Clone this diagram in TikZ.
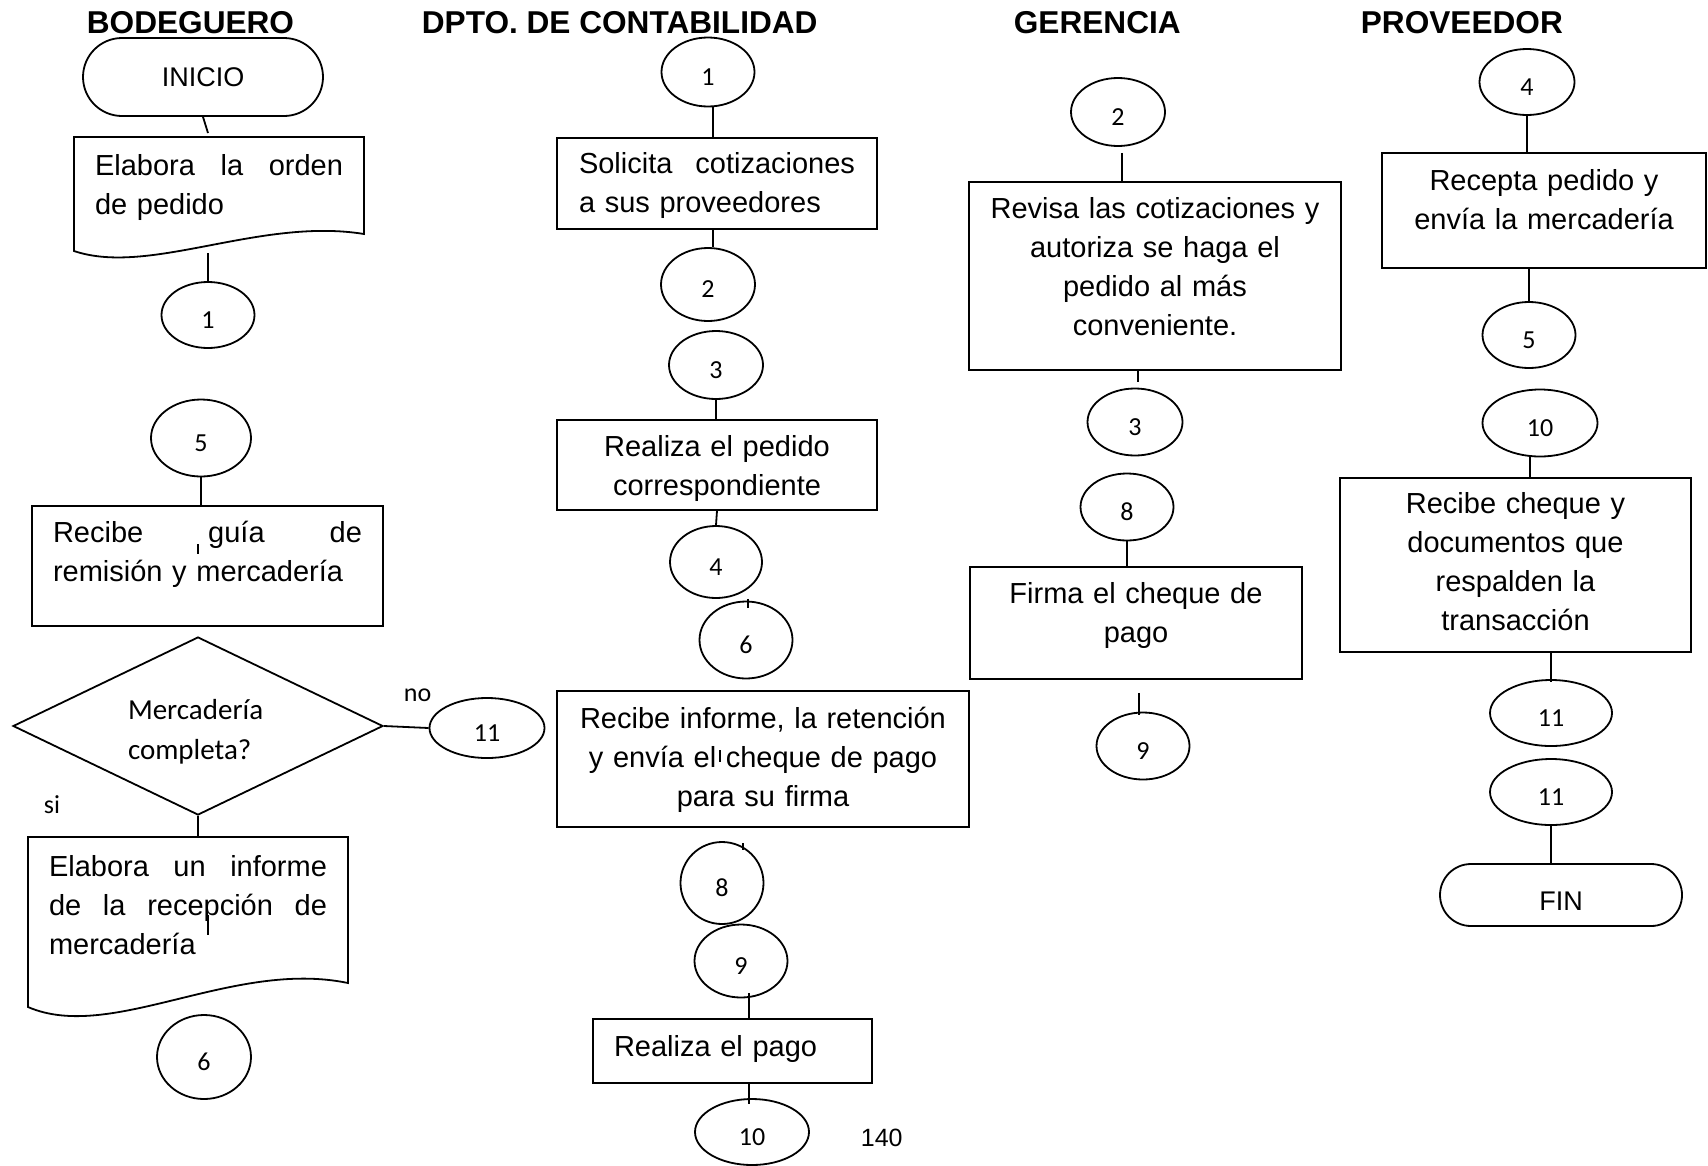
\documentclass[tikz,border=0pt]{standalone}
\usepackage{fontspec}
\setmainfont{Liberation Sans}
\newfontfamily\calibri{Carlito}
\usetikzlibrary{shapes.geometric,shapes.misc,calc}
\setlength{\parindent}{0pt}

\newcommand\textsz{\fontsize{29}{39}\selectfont}
\newcommand\numsz{\calibri\fontsize{26}{30}\selectfont}
\newcommand\headsz{\bfseries\fontsize{31.6}{36}\selectfont}
% one justified line across the whole text width
\newcommand\jline[1]{\makebox[\hsize][s]{\spaceskip=0pt plus 1fil\relax#1}}
% struts: height of the first line, depth of the last one (in pt)
\newcommand\up[1]{\rule{0pt}{#1pt}}
\newcommand\dn[1]{\rule[-#1pt]{0pt}{#1pt}}
% document symbol: flat top, wavy bottom edge
\newcommand\docoutline[2]{%
  \draw (#1.south west) -- (#1.north west) -- (#1.north east) -- ($(#1.south east)+(0pt,#2)$)
    .. controls ($(#1.south west)!0.64!(#1.south east)+(0pt,2*#2)$)
    and ($(#1.south west)!0.26!(#1.south east)-(0pt,1.5*#2)$) .. (#1.south west) -- cycle;}

\tikzset{
  head/.style={anchor=base west, inner sep=0pt, font=\headsz},
  term/.style={draw, rounded rectangle, inner sep=0pt, font=\fontsize{27}{30}\selectfont},
  proc/.style={draw, rectangle, anchor=north, inner sep=0pt, align=center, font=\textsz},
  docu/.style={rectangle, anchor=north, inner sep=0pt, outer sep=0pt, align=left, font=\textsz},
  con/.style 2 args={draw, ellipse, inner sep=0pt, minimum width=#1pt, minimum height=#2pt,
    text height=26.4pt, text depth=0pt, font=\numsz},
  decision/.style={draw, diamond, aspect=2.08, inner sep=0pt, minimum width=370pt,
    minimum height=178pt, text width=140pt, align=left, font=\calibri\fontsize{29}{40}\selectfont},
  tag/.style={anchor=base west, inner sep=0pt, font=\numsz}
}

\begin{document}
\begin{tikzpicture}[x=1pt,y=-1pt,line width=1.8pt]
\useasboundingbox (0,0) rectangle (1708,1165);

% column headings
\node[head] (hBod) at (86,33) {BODEGUERO};
\node[head] (hCont) at (421,33) {DPTO. DE CONTABILIDAD};
\node[head] (hGer) at (1013,33) {GERENCIA};
\node[head] (hProv) at (1360,33) {PROVEEDOR};

% bodeguero
\node[term, minimum width=240pt, minimum height=78pt] (inicio) at (203,77) {INICIO};
\node[docu, minimum width=290pt, text width=248pt] (orden) at (219,137)
  {\up{38}\jline{Elabora la orden}\\ de pedido\dn{37}};
\node[con={93}{66}] (b1) at (208,315) {1};
\node[con={100}{77}] (b5) at (201,438) {5};
\node[proc, align=left, minimum width=351pt, text width=309pt] (guia) at (207.5,505)
  {\up{37}\jline{Recibe guía de}\\ remisión y mercadería\dn{44}};
\node[decision] (dec) at (198,726) {\up{34}Mercadería\\ completa?\dn{8}};
\node[tag] (no) at (403,701) {no};
\node[tag] (si) at (43,813) {si};
\node[con={115}{60}] (b11) at (487,728) {11};
\node[docu, minimum width=320pt, text width=278pt] (reporte) at (188,837)
  {\up{39}\jline{Elabora un informe}\\ \jline{de la recepción de}\\ mercadería\dn{53}};
\node[con={94}{84}] (b6) at (204,1057) {6};

\docoutline{orden}{17pt}
\docoutline{reporte}{24pt}

\draw (inicio.south) -- ($(orden.north -| b1.north)+(0pt,4pt)$);
\draw ($(b1.north |- orden.south)+(0pt,-2pt)$) -- (b1.north);
\draw (b5.south) -- (b5.south |- guia.north);
\draw (dec.east) -- (b11.west);
\draw (dec.south) -- (dec.south |- reporte.north);

% dpto. de contabilidad
\node[con={93}{69}] (k1) at (708,72) {1};
\node[proc, align=left, minimum width=320pt, text width=276pt] (solicita) at (717,137)
  {\up{36}\jline{Solicita cotizaciones}\\ a sus proveedores\dn{16}};
\node[con={94}{73}] (k2) at (708,284.5) {2};
\node[con={94}{68}] (k3) at (716,365) {3};
\node[proc, minimum width=320pt, text width=300pt] (pedido) at (717,419)
  {\up{37}Realiza el pedido\\ correspondiente\dn{14}};
\node[con={92}{72}] (k4) at (716,562) {4};
\node[con={93}{77}] (k6) at (746,640) {6};
\node[proc, minimum width=412pt, text width=400pt] (retencion) at (763,690)
  {\up{38}Recibe informe, la retención\\ y envía el cheque de pago\\ para su firma\dn{20}};
\node[con={83}{82}] (k8) at (722,883) {8};
\node[con={93}{73}] (k9) at (741,961) {9};
\node[proc, align=left, minimum width=279pt, text width=237pt] (pago) at (732.5,1018)
  {\up{38}Realiza el pago\dn{26}};
\node[con={114}{66}] (k10) at (752,1132) {10};
\node[anchor=base west, inner sep=0pt, font=\fontsize{25}{30}\selectfont] (folio) at (860,1146) {140};

\draw ($(k1.south)+(5pt,0pt)$) -- ($(k1.south |- solicita.north)+(5pt,0pt)$);
\draw ($(k2.north |- solicita.south)+(5pt,0pt)$) -- ($(k2.north)+(5pt,0pt)$);
\draw (k3.south) -- (k3.south |- pedido.north);
\draw (pedido.south) -- (k4.north);
\draw ($(k6.north |- k4.south)+(2pt,0pt)$) -- ($(k6.north)+(2pt,-7pt)$);
\draw ($(k9.south)+(8pt,5pt)$) -- ($(k9.south |- pago.north)+(8pt,0pt)$);
\draw ($(k10.north |- pago.south)+(-3pt,0pt)$) -- ($(k10.north)+(-3pt,-6pt)$);

% gerencia
\node[con={94}{68}] (g2) at (1118,112) {2};
\node[proc, minimum width=372pt, text width=360pt] (revisa) at (1155,181)
  {\up{37}Revisa las cotizaciones y\\ autoriza se haga el\\ pedido al más\\ conveniente.\dn{34}};
\node[con={95}{67}] (g3) at (1135,422) {3};
\node[con={93}{67}] (g8) at (1127,507) {8};
\node[proc, minimum width=332pt, text width=320pt] (firma) at (1136,566)
  {\up{37}Firma el cheque de\\ pago\dn{36}};
\node[con={93}{67}] (g9) at (1143,746) {9};

\draw ($(g2.south)+(4pt,-6pt)$) -- ($(g2.south |- revisa.north)+(4pt,0pt)$);
\draw ($(g3.north |- revisa.south)+(3pt,0pt)$) -- ($(g3.north)+(3pt,6pt)$);
\draw (g8.south) -- (g8.south |- firma.north);
\draw ($(g9.north |- firma.south)+(-4pt,-13pt)$) -- ($(g9.north)+(-4pt,-3pt)$);

% proveedor
\node[con={95}{66}] (p4) at (1527,82) {4};
\node[proc, minimum width=324pt, text width=315pt] (recepta) at (1544,152)
  {\up{38}Recepta pedido y\\ envía la mercadería\dn{38}};
\node[con={93}{66}] (p5) at (1529,335) {5};
\node[con={115}{67}] (p10) at (1540,423) {10};
\node[proc, minimum width=351pt, text width=340pt] (cheque) at (1515.5,477)
  {\up{36}Recibe cheque y\\ documentos que\\ respalden la\\ transacción\dn{21}};
\node[con={122}{66}] (p11) at (1551,713) {11};
\node[con={122}{66}] (p11b) at (1551,792) {11};
\node[term, minimum width=242pt, minimum height=62pt, text height=31pt, text depth=0pt] (fin) at (1561,895) {FIN};

\draw (p4.south) -- (p4.south |- recepta.north);
\draw (p5.north |- recepta.south) -- (p5.north);
\draw ($(p10.south)+(-10pt,0pt)$) -- ($(p10.south |- cheque.north)+(-10pt,0pt)$);
\draw (p11.north |- cheque.south) -- ($(p11.north)+(0pt,-3pt)$);
\draw (p11b.south) -- (p11b.south |- fin.north);

% loose strokes left over in the boxes
\foreach \x/\ya/\yb in {198/544/554, 208/915/935, 720/750/762, 743/843/850}
  \draw[line width=1.2pt] (\x,\ya) -- (\x,\yb);
\end{tikzpicture}
\end{document}
